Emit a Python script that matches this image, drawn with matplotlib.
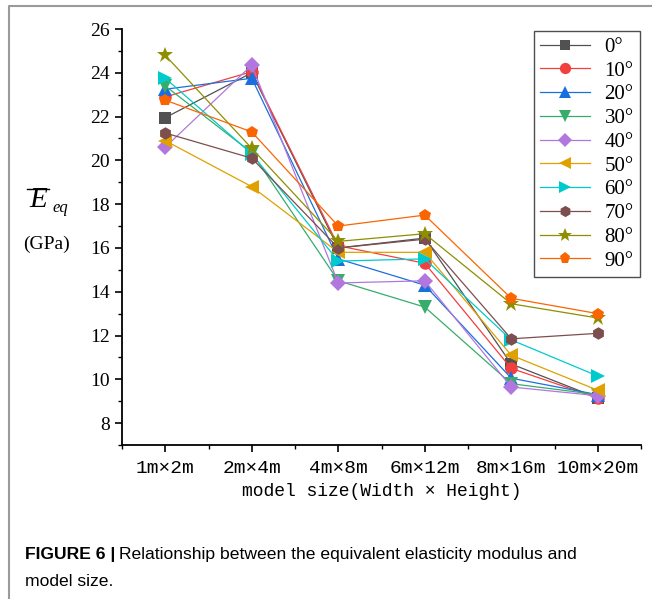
import matplotlib
matplotlib.use("Agg")
import matplotlib.pyplot as plt
from matplotlib.lines import Line2D
from matplotlib.ticker import MultipleLocator, FixedLocator

# model sizes (width x height)
sizes = ["1m×2m", "2m×4m", "4m×8m", "6m×12m", "8m×16m", "10m×20m"]
angles = ["0°", "10°", "20°", "30°", "40°", "50°", "60°", "70°", "80°", "90°"]

# equivalent elasticity modulus (GPa) for each joint angle
e_0 = [21.95, 24.0, 16.0, 16.45, 10.7, 9.15]
e_10 = [22.9, 24.05, 16.1, 15.3, 10.5, 9.15]
e_20 = [23.25, 23.75, 15.5, 14.3, 10.05, 9.3]
e_30 = [23.4, 20.35, 14.5, 13.3, 9.8, 9.3]
e_40 = [20.6, 24.35, 14.4, 14.5, 9.65, 9.25]
e_50 = [20.9, 18.8, 15.8, 15.8, 11.1, 9.5]
e_60 = [23.75, 20.3, 15.4, 15.5, 11.8, 10.15]
e_70 = [21.25, 20.1, 16.0, 16.4, 11.85, 12.1]
e_80 = [24.8, 20.55, 16.3, 16.65, 13.45, 12.8]
e_90 = [22.75, 21.3, 17.0, 17.5, 13.7, 13.0]

series = [e_0, e_10, e_20, e_30, e_40, e_50, e_60, e_70, e_80, e_90]
colors = ["#515151", "#F14040", "#1A6FDF", "#37AD6B", "#B177DE",
          "#E0A000", "#00CBCC", "#7D4E4E", "#8E8E00", "#FB6501"]
markers = ["s", "o", "^", "v", "D", "<", ">", "h", "*", "p"]
msizes = [8, 9, 10, 10, 8, 10, 10, 9, 12, 9]

fig = plt.figure(figsize=(6.52, 5.99), dpi=100)
W, H = 652, 599
ax = fig.add_axes([122 / W, 1 - 445 / H, 519 / W, (445 - 29) / H])

x = list(range(len(sizes)))
for vals, lab, c, m, ms in zip(series, angles, colors, markers, msizes):
    ax.plot(x, vals, color=c, marker=m, markersize=ms, linewidth=0.9,
            markeredgewidth=0, label=lab)

ax.set_xlim(-0.5, 5.5)
ax.set_ylim(7, 26)
ax.spines["top"].set_visible(False)
ax.spines["right"].set_visible(False)
for s in ("left", "bottom"):
    ax.spines[s].set_linewidth(1.3)

ax.set_xticks(x)
ax.set_xticklabels(sizes, family="Liberation Mono", fontsize=14)
ax.xaxis.set_minor_locator(FixedLocator([i + 0.5 for i in range(-1, 6)]))
ax.yaxis.set_major_locator(FixedLocator(range(8, 27, 2)))
ax.yaxis.set_minor_locator(MultipleLocator(1))
ax.tick_params(axis="both", which="major", direction="out", length=5, width=1.2)
ax.tick_params(axis="both", which="minor", direction="out", length=3, width=1.0)
ax.tick_params(axis="y", labelsize=14, labelfontfamily="Liberation Serif")
ax.tick_params(axis="x", pad=6)

ax.set_xlabel("model size(Width × Height)", family="Liberation Mono",
              fontsize=13, labelpad=4)

leg = ax.legend(loc="upper right", bbox_to_anchor=(0.998, 0.995),
                prop={"family": "Liberation Serif", "size": 15},
                frameon=True, fancybox=False, edgecolor="#222222",
                handlelength=2.4, labelspacing=0.2, borderpad=0.3,
                handletextpad=0.7, borderaxespad=0.0, markerscale=0.9)
leg.get_frame().set_linewidth(1.0)

# y-axis label: E with overline and subscript
fig.text(29 / W, 1 - 200 / H, "E", family="Liberation Serif", style="italic",
         fontsize=21, va="center", ha="left")
fig.text(52 / W, 1 - 208 / H, "eq", family="Liberation Serif", style="italic",
         fontsize=12, va="center", ha="left")
fig.add_artist(Line2D([27 / W, 49 / W], [1 - 189 / H, 1 - 189 / H],
                      transform=fig.transFigure, color="black", linewidth=1.0))
fig.text(46 / W, 1 - 244 / H, "(GPa)", family="Liberation Serif",
         fontsize=14, va="center", ha="center")

# caption: bold label followed by regular text
head = fig.text(25 / W, 1 - 555 / H, "FIGURE 6 |", fontsize=12.6,
                family="Liberation Sans", weight="bold", va="center", ha="left")
fig.canvas.draw()
bb = head.get_window_extent(fig.canvas.get_renderer())
fig.text(bb.x1 / W + 4 / W, 1 - 555 / H,
         "Relationship between the equivalent elasticity modulus and",
         family="Liberation Sans", fontsize=12.6, va="center", ha="left")
fig.text(25 / W, 1 - 581 / H, "model size.", family="Liberation Sans",
         fontsize=12.6, va="center", ha="left")

# page frame
fig.add_artist(Line2D([9 / W, 9 / W, 1.0], [0.0, 1 - 6 / H, 1 - 6 / H],
                      transform=fig.transFigure, color="#9a9a9a", linewidth=1.5))

fig.savefig("out.png", dpi=100)
